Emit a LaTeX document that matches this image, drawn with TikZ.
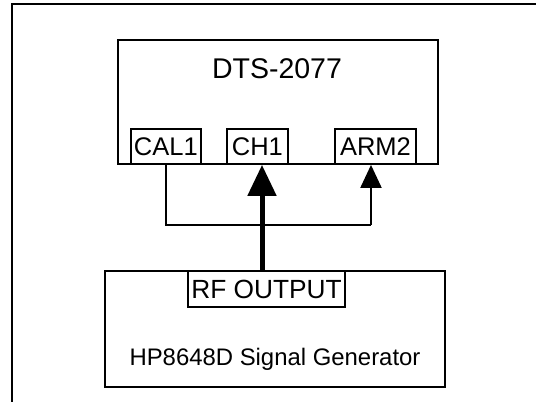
\documentclass[tikz,border=0pt]{standalone}
\usepackage{fontspec}
\setmainfont{Liberation Sans}
\usetikzlibrary{arrows.meta}
\begin{document}
\begin{tikzpicture}[x=1pt,y=-1pt,
  box/.style={draw,line width=1.8pt,inner sep=0pt,fill=white},
  port/.style={draw,line width=1.8pt,inner sep=0pt,fill=white,minimum height=35pt,font=\fontsize{25.5}{28}\selectfont},
  thick wire/.style={line width=5pt,-{Triangle[length=31pt,width=28pt]}},
  thin wire/.style={line width=2pt}
]
\useasboundingbox (0,0) rectangle (536,402);
\draw[line width=2pt] (12,402) -- (12,4) -- (536,4);
\node[box,minimum width=320pt,minimum height=124pt] (dts) at (278,102) {};
\node[font=\fontsize{28.5}{32}\selectfont] (dtslabel) at (277,69) {DTS-2077};
\node[port,minimum width=70.4pt] (cal) at (165.8,146.5) {CAL1};
\node[port,minimum width=61.3pt] (ch) at (257.4,146.5) {CH1};
\node[port,minimum width=81pt] (arm) at (375.5,146.5) {ARM2};
\node[box,minimum width=340pt,minimum height=116pt] (gen) at (275,329) {};
\node[font=\fontsize{23.9}{28}\selectfont] (genlabel) at (275,359) {HP8648D Signal Generator};
\node[port,minimum width=157pt,minimum height=36pt,font=\fontsize{26.3}{28}\selectfont] (rf) at (266.5,289) {RF OUTPUT};
\coordinate (rfout) at ([xshift=-4.5pt]rf.north);
\coordinate (chin) at (rfout |- ch.south);
\coordinate (c1) at ([yshift=-60pt]cal.south);
\coordinate (armin) at ([xshift=-4.5pt]arm.south);
\coordinate (c2) at (armin |- c1);
\draw[thin wire] (cal.south) -- (c1) -- (c2);
\draw[thin wire,-{Triangle[length=23pt,width=21pt]}] (c2) -- (armin);
\draw[thick wire] (rfout) -- (chin);
\end{tikzpicture}
\end{document}
